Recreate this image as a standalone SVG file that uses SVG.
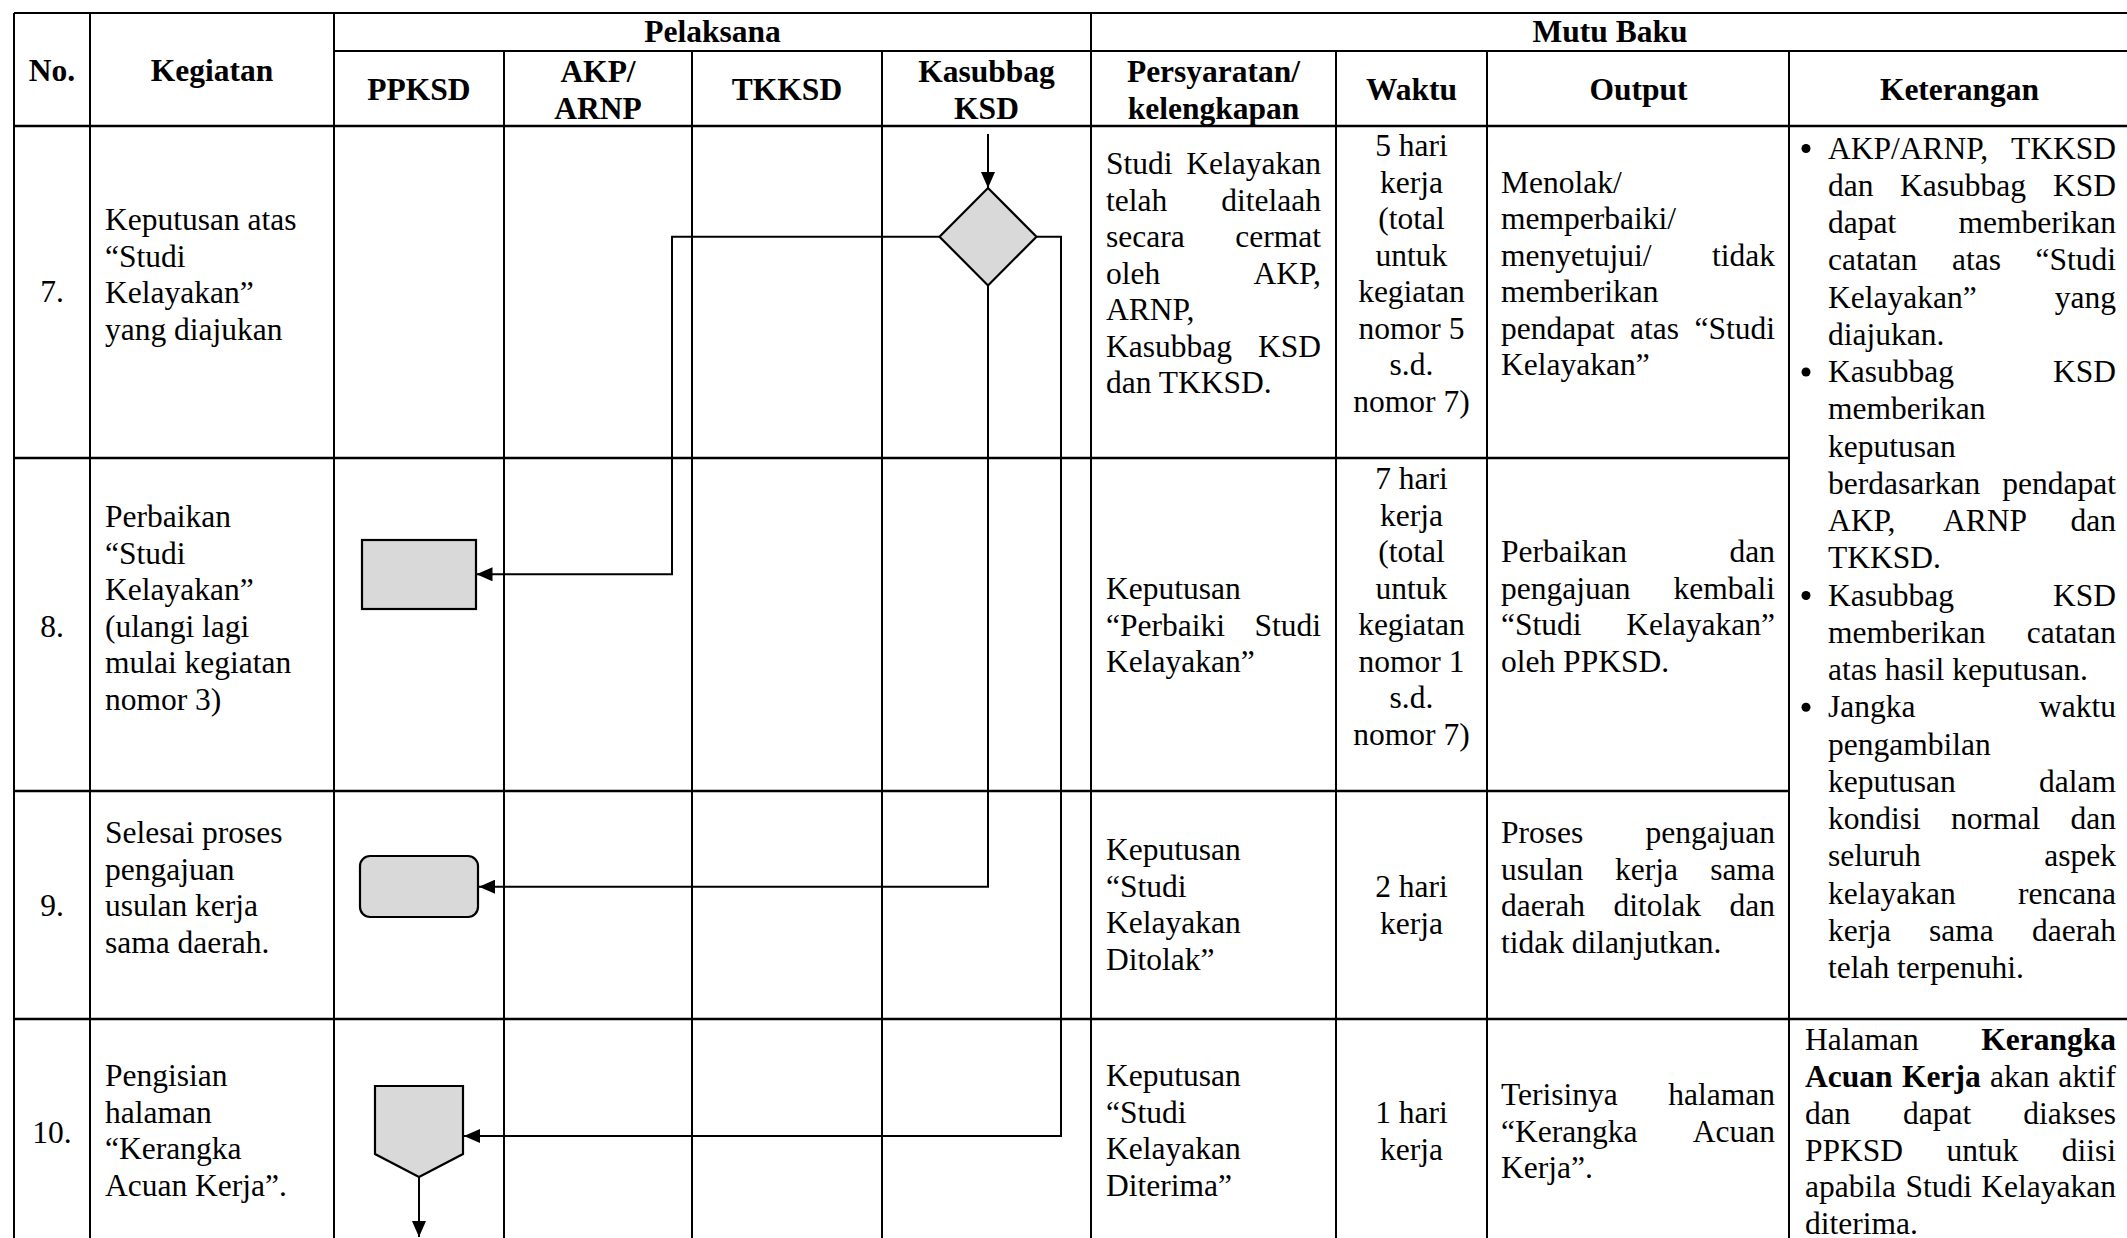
<svg xmlns="http://www.w3.org/2000/svg" width="2127" height="1238" viewBox="0 0 2127 1238">
  <style>
    text { font-family: "Liberation Serif", "Times New Roman", serif; font-size: 31.5px; fill: #000; }
    .b { font-weight: bold; }
    .m { text-anchor: middle; }
    .e { text-anchor: end; }
    .grid { stroke: #000; stroke-width: 2; fill: none; }
    .rowline { stroke: #000; stroke-width: 2.5; fill: none; }
    .shape { fill: #d9d9d9; stroke: #000; stroke-width: 2.2; }
    .conn { fill: none; stroke: #000; stroke-width: 2; }
  </style>
  <defs>
    <marker id="arrow" markerUnits="userSpaceOnUse" markerWidth="16" markerHeight="14" refX="16" refY="7" orient="auto">
      <path d="M0,0 L16,7 L0,14 z" fill="#000"/>
    </marker>
  </defs>
  <rect width="2127" height="1238" fill="#fff"/>

  <!-- table grid -->
  <g id="table">
    <path class="grid" d="M14,13 V1238 M90,13 V1238 M334,13 V1238 M1091,13 V1238
                          M504,51 V1238 M692,51 V1238 M882,51 V1238
                          M1336,51 V1238 M1487,51 V1238 M1789,51 V1238
                          M14,13 H2127 M334,51 H2127"/>
    <path class="rowline" d="M14,126 H2127 M14,458 H1789 M14,791 H1789 M14,1019 H2127"/>
  </g>

  <!-- header -->
  <g id="header">
    <text class="b m" x="52" y="81">No.</text>
    <text class="b m" x="212" y="81">Kegiatan</text>
    <text class="b m" x="712.5" y="42">Pelaksana</text>
    <text class="b m" x="1610" y="42">Mutu Baku</text>
    <text class="b m" x="419" y="100">PPKSD</text>
    <text class="b m" x="598" y="81.5">AKP/</text>
    <text class="b m" x="598" y="118.5">ARNP</text>
    <text class="b m" x="787" y="100">TKKSD</text>
    <text class="b m" x="986.5" y="81.5">Kasubbag</text>
    <text class="b m" x="986.5" y="118.5">KSD</text>
    <text class="b m" x="1213.5" y="81.5">Persyaratan/</text>
    <text class="b m" x="1213.5" y="118.5">kelengkapan</text>
    <text class="b m" x="1411.5" y="100">Waktu</text>
    <text class="b m" x="1638.5" y="100">Output</text>
    <text class="b m" x="1959.5" y="100">Keterangan</text>
  </g>

  <!-- row numbers -->
  <g id="numbers">
    <text class="m" x="52" y="302">7.</text>
    <text class="m" x="52" y="637">8.</text>
    <text class="m" x="52" y="916">9.</text>
    <text class="m" x="52" y="1143">10.</text>
  </g>

  <!-- activities -->
  <g id="kegiatan">
    <text x="105" y="230">Keputusan atas</text>
    <text x="105" y="266.5">“Studi</text>
    <text x="105" y="303">Kelayakan”</text>
    <text x="105" y="339.5">yang diajukan</text>

    <text x="105" y="527">Perbaikan</text>
    <text x="105" y="563.6">“Studi</text>
    <text x="105" y="600.2">Kelayakan”</text>
    <text x="105" y="636.8">(ulangi lagi</text>
    <text x="105" y="673.4">mulai kegiatan</text>
    <text x="105" y="710">nomor 3)</text>

    <text x="105" y="843">Selesai proses</text>
    <text x="105" y="879.5">pengajuan</text>
    <text x="105" y="916">usulan kerja</text>
    <text x="105" y="952.5">sama daerah.</text>

    <text x="105" y="1086">Pengisian</text>
    <text x="105" y="1122.6">halaman</text>
    <text x="105" y="1159.2">“Kerangka</text>
    <text x="105" y="1195.8">Acuan Kerja”.</text>
  </g>

  <!-- requirements -->
  <g id="persyaratan">
    <text x="1106" y="174.3">Studi</text><text class="e" x="1321" y="174.3">Kelayakan</text>
    <text x="1106" y="210.8">telah</text><text class="e" x="1321" y="210.8">ditelaah</text>
    <text x="1106" y="247.3">secara</text><text class="e" x="1321" y="247.3">cermat</text>
    <text x="1106" y="283.8">oleh</text><text class="e" x="1321" y="283.8">AKP,</text>
    <text x="1106" y="320.3">ARNP,</text>
    <text x="1106" y="356.8">Kasubbag</text><text class="e" x="1321" y="356.8">KSD</text>
    <text x="1106" y="393.3">dan TKKSD.</text>

    <text x="1106" y="599">Keputusan</text>
    <text x="1106" y="635.5">“Perbaiki</text><text class="e" x="1321" y="635.5">Studi</text>
    <text x="1106" y="672">Kelayakan”</text>

    <text x="1106" y="860">Keputusan</text>
    <text x="1106" y="896.5">“Studi</text>
    <text x="1106" y="933">Kelayakan</text>
    <text x="1106" y="969.5">Ditolak”</text>

    <text x="1106" y="1086">Keputusan</text>
    <text x="1106" y="1122.5">“Studi</text>
    <text x="1106" y="1159">Kelayakan</text>
    <text x="1106" y="1195.5">Diterima”</text>
  </g>

  <!-- time -->
  <g id="waktu">
    <text class="m" x="1411.5" y="156">5 hari</text>
    <text class="m" x="1411.5" y="192.5">kerja</text>
    <text class="m" x="1411.5" y="229">(total</text>
    <text class="m" x="1411.5" y="265.5">untuk</text>
    <text class="m" x="1411.5" y="302">kegiatan</text>
    <text class="m" x="1411.5" y="338.5">nomor 5</text>
    <text class="m" x="1411.5" y="375">s.d.</text>
    <text class="m" x="1411.5" y="411.5">nomor 7)</text>

    <text class="m" x="1411.5" y="489">7 hari</text>
    <text class="m" x="1411.5" y="525.5">kerja</text>
    <text class="m" x="1411.5" y="562">(total</text>
    <text class="m" x="1411.5" y="598.5">untuk</text>
    <text class="m" x="1411.5" y="635">kegiatan</text>
    <text class="m" x="1411.5" y="671.5">nomor 1</text>
    <text class="m" x="1411.5" y="708">s.d.</text>
    <text class="m" x="1411.5" y="744.5">nomor 7)</text>

    <text class="m" x="1411.5" y="897">2 hari</text>
    <text class="m" x="1411.5" y="933.5">kerja</text>

    <text class="m" x="1411.5" y="1123">1 hari</text>
    <text class="m" x="1411.5" y="1159.5">kerja</text>
  </g>

  <!-- output -->
  <g id="output">
    <text x="1501" y="192.5">Menolak/</text>
    <text x="1501" y="229">memperbaiki/</text>
    <text x="1501" y="265.5">menyetujui/</text><text class="e" x="1775" y="265.5">tidak</text>
    <text x="1501" y="302">memberikan</text>
    <text x="1501" y="338.5">pendapat</text><text x="1630" y="338.5">atas</text><text class="e" x="1775" y="338.5">“Studi</text>
    <text x="1501" y="375">Kelayakan”</text>

    <text x="1501" y="562">Perbaikan</text><text class="e" x="1775" y="562">dan</text>
    <text x="1501" y="598.5">pengajuan</text><text class="e" x="1775" y="598.5">kembali</text>
    <text x="1501" y="635">“Studi</text><text class="e" x="1775" y="635">Kelayakan”</text>
    <text x="1501" y="671.5">oleh PPKSD.</text>

    <text x="1501" y="843">Proses</text><text class="e" x="1775" y="843">pengajuan</text>
    <text x="1501" y="879.5">usulan</text><text x="1615" y="879.5">kerja</text><text class="e" x="1775" y="879.5">sama</text>
    <text x="1501" y="916">daerah</text><text x="1613.5" y="916">ditolak</text><text class="e" x="1775" y="916">dan</text>
    <text x="1501" y="952.5">tidak dilanjutkan.</text>

    <text x="1501" y="1105">Terisinya</text><text class="e" x="1775" y="1105">halaman</text>
    <text x="1501" y="1141.5">“Kerangka</text><text class="e" x="1775" y="1141.5">Acuan</text>
    <text x="1501" y="1178">Kerja”.</text>
  </g>

  <!-- remarks -->
  <g id="keterangan">
    <circle cx="1806" cy="148.5" r="4.5"/>
    <text x="1828" y="158.5">AKP/ARNP,</text><text class="e" x="2116" y="158.5">TKKSD</text>
    <text x="1828" y="195.7">dan</text><text x="1900" y="195.7">Kasubbag</text><text class="e" x="2116" y="195.7">KSD</text>
    <text x="1828" y="233">dapat</text><text class="e" x="2116" y="233">memberikan</text>
    <text x="1828" y="270.2">catatan</text><text x="1952" y="270.2">atas</text><text class="e" x="2116" y="270.2">“Studi</text>
    <text x="1828" y="307.5">Kelayakan”</text><text class="e" x="2116" y="307.5">yang</text>
    <text x="1828" y="344.7">diajukan.</text>

    <circle cx="1806" cy="372" r="4.5"/>
    <text x="1828" y="382">Kasubbag</text><text class="e" x="2116" y="382">KSD</text>
    <text x="1828" y="419.2">memberikan</text>
    <text x="1828" y="456.5">keputusan</text>
    <text x="1828" y="493.7">berdasarkan</text><text class="e" x="2116" y="493.7">pendapat</text>
    <text x="1828" y="531">AKP,</text><text x="1943" y="531">ARNP</text><text class="e" x="2116" y="531">dan</text>
    <text x="1828" y="568.2">TKKSD.</text>

    <circle cx="1806" cy="595.5" r="4.5"/>
    <text x="1828" y="605.5">Kasubbag</text><text class="e" x="2116" y="605.5">KSD</text>
    <text x="1828" y="642.7">memberikan</text><text class="e" x="2116" y="642.7">catatan</text>
    <text x="1828" y="680">atas hasil keputusan.</text>

    <circle cx="1806" cy="707.2" r="4.5"/>
    <text x="1828" y="717.2">Jangka</text><text class="e" x="2116" y="717.2">waktu</text>
    <text x="1828" y="754.5">pengambilan</text>
    <text x="1828" y="791.7">keputusan</text><text class="e" x="2116" y="791.7">dalam</text>
    <text x="1828" y="829">kondisi</text><text x="1951" y="829">normal</text><text class="e" x="2116" y="829">dan</text>
    <text x="1828" y="866.2">seluruh</text><text class="e" x="2116" y="866.2">aspek</text>
    <text x="1828" y="903.5">kelayakan</text><text class="e" x="2116" y="903.5">rencana</text>
    <text x="1828" y="940.7">kerja</text><text x="1929" y="940.7">sama</text><text class="e" x="2116" y="940.7">daerah</text>
    <text x="1828" y="978">telah terpenuhi.</text>

    <text x="1805" y="1050">Halaman</text><text class="b e" x="2116" y="1050">Kerangka</text>
    <text class="b" x="1805" y="1087">Acuan</text><text class="b" x="1902" y="1087">Kerja</text><text x="1990" y="1087">akan</text><text class="e" x="2116" y="1087">aktif</text>
    <text x="1805" y="1124">dan</text><text x="1903" y="1124">dapat</text><text class="e" x="2116" y="1124">diakses</text>
    <text x="1805" y="1160.5">PPKSD</text><text x="1946.5" y="1160.5">untuk</text><text class="e" x="2116" y="1160.5">diisi</text>
    <text x="1805" y="1197">apabila</text><text x="1905.5" y="1197">Studi</text><text class="e" x="2116" y="1197">Kelayakan</text>
    <text x="1805" y="1234">diterima.</text>
  </g>

  <!-- flow connectors -->
  <g id="connectors">
    <path class="conn" d="M988,134 V188" marker-end="url(#arrow)"/>
    <path class="conn" stroke-width="2.5" d="M939.5,236.7 H672 V574.3 H476.5" marker-end="url(#arrow)"/>
    <path class="conn" d="M988,285.7 V886.7 H479" marker-end="url(#arrow)"/>
    <path class="conn" d="M1036.5,236.7 H1061 V1136 H464" marker-end="url(#arrow)"/>
    <path class="conn" d="M419,1177 V1237" marker-end="url(#arrow)"/>
  </g>

  <!-- flow nodes -->
  <g id="node-decision">
    <polygon class="shape" points="988,188 1036.5,236.7 988,285.5 939.5,236.7"/>
  </g>
  <g id="node-revision">
    <rect class="shape" x="362" y="540" width="114" height="69"/>
  </g>
  <g id="node-end">
    <rect class="shape" x="360" y="856" width="118" height="61" rx="10" ry="10"/>
  </g>
  <g id="node-offpage">
    <polygon class="shape" points="375,1086 463,1086 463,1154 419,1177 375,1154"/>
  </g>
</svg>
